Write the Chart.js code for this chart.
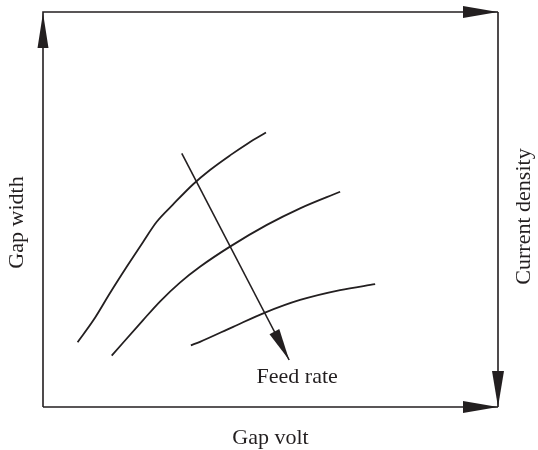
<!DOCTYPE html>
<html>
<head>
<meta charset="utf-8">
<script src="https://cdn.jsdelivr.net/npm/chart.js@4"></script>
<style>
  body { margin: 0; background: #fff; }
  #wrap { width: 538px; height: 450px; }
</style>
</head>
<body>
<div id="wrap"><canvas id="canvas1" width="538" height="450"></canvas></div>
<script>
// values in arbitrary units, 0..100 on both axes
const curveHigh = [
  {x: 7.6, y: 16.4}, {x: 11.1, y: 22.0}, {x: 14.7, y: 28.8}, {x: 18.4, y: 35.5},
  {x: 22.0, y: 41.8}, {x: 25.0, y: 46.9}, {x: 28.6, y: 51.3}, {x: 33.0, y: 56.4},
  {x: 36.7, y: 60.0}, {x: 41.1, y: 63.7}, {x: 45.1, y: 66.8}, {x: 49.0, y: 69.5}
];
const curveMid = [
  {x: 15.1, y: 13.0}, {x: 22.0, y: 22.0}, {x: 25.7, y: 26.7}, {x: 30.1, y: 31.5},
  {x: 34.5, y: 35.5}, {x: 41.1, y: 40.6}, {x: 49.2, y: 46.1}, {x: 56.5, y: 50.3},
  {x: 65.3, y: 54.5}
];
const curveLow = [
  {x: 32.5, y: 15.6}, {x: 34.5, y: 16.5}, {x: 41.8, y: 20.3}, {x: 48.8, y: 23.9},
  {x: 56.5, y: 27.1}, {x: 65.3, y: 29.6}, {x: 73.0, y: 31.1}
];
const feedArrow = [{x: 30.5, y: 64.2}, {x: 54.1, y: 11.9}];

const axisMin = 0;
const axisMax = 100;
const xTitle = 'Gap volt';
const yTitle = 'Gap width';
const y2Title = 'Current density';
const arrowLabel = 'Feed rate';

const ink = '#231f20';
const font = '"Liberation Serif", "DejaVu Serif", serif';

function arrowHead(ctx, tipX, tipY, fromX, fromY, len, half) {
  let a = Math.atan2(tipY - fromY, tipX - fromX);
  let bx = tipX - len * Math.cos(a);
  let by = tipY - len * Math.sin(a);
  ctx.beginPath();
  ctx.moveTo(tipX, tipY);
  ctx.lineTo(bx + half * Math.sin(a), by - half * Math.cos(a));
  ctx.lineTo(bx - half * Math.sin(a), by + half * Math.cos(a));
  ctx.closePath();
  ctx.fill();
}

const framePlugin = {
  id: 'frame',
  afterDraw(chart) {
    const ctx = chart.ctx;
    const xs = chart.scales.x, ys = chart.scales.y;
    let l = xs.getPixelForValue(axisMin), r = xs.getPixelForValue(axisMax);
    let t = ys.getPixelForValue(axisMax), b = ys.getPixelForValue(axisMin);
    ctx.save();
    ctx.strokeStyle = ink;
    ctx.fillStyle = ink;
    ctx.lineWidth = 1.6;
    ctx.beginPath();
    ctx.moveTo(l, b); ctx.lineTo(l, t); ctx.lineTo(r, t);
    ctx.moveTo(l, b); ctx.lineTo(r, b);
    ctx.moveTo(r, t); ctx.lineTo(r, b);
    ctx.stroke();

    arrowHead(ctx, l, t + 1, l, b, 35, 5.5);
    arrowHead(ctx, r, t, l, t, 35, 6);
    arrowHead(ctx, r, b, r, t, 36, 6);
    arrowHead(ctx, r, b, l, b, 35, 6);

    // feed rate arrow head
    let p0 = feedArrow[0], p1 = feedArrow[1];
    let fx0 = xs.getPixelForValue(p0.x), fy0 = ys.getPixelForValue(p0.y);
    let fx1 = xs.getPixelForValue(p1.x), fy1 = ys.getPixelForValue(p1.y);
    arrowHead(ctx, fx1, fy1, fx0, fy0, 32, 5.5);

    ctx.font = '22px ' + font;
    ctx.textAlign = 'center';
    ctx.textBaseline = 'middle';
    ctx.fillText(arrowLabel, fx1 + 8, fy1 + 17);
    ctx.fillText(xTitle, (l + r) / 2, b + 31);

    ctx.save();
    ctx.translate(l - 26, (t + b) / 2 + 13);
    ctx.rotate(-Math.PI / 2);
    ctx.fillText(yTitle, 0, 0);
    ctx.restore();

    ctx.save();
    ctx.translate(r + 26, (t + b) / 2 + 7);
    ctx.rotate(-Math.PI / 2);
    ctx.fillText(y2Title, 0, 0);
    ctx.restore();
    ctx.restore();
  }
};

function lineSet(pts) {
  return {
    data: pts,
    borderColor: ink,
    borderWidth: 1.8,
    pointRadius: 0,
    fill: false,
    cubicInterpolationMode: 'monotone',
    showLine: true
  };
}

const chart1 = new Chart(document.getElementById('canvas1'), {
  type: 'scatter',
  data: {
    datasets: [
      lineSet(curveHigh),
      lineSet(curveMid),
      lineSet(curveLow),
      Object.assign(lineSet(feedArrow), {cubicInterpolationMode: 'default', tension: 0, borderWidth: 1.6})
    ]
  },
  options: {
    responsive: false,
    animation: false,
    layout: { padding: { left: 43, right: 40, top: 12, bottom: 43 } },
    plugins: { legend: { display: false }, tooltip: { enabled: false } },
    scales: {
      x: { type: 'linear', min: axisMin, max: axisMax, display: false },
      y: { type: 'linear', min: axisMin, max: axisMax, display: false }
    }
  },
  plugins: [framePlugin]
});
</script>
</body>
</html>
